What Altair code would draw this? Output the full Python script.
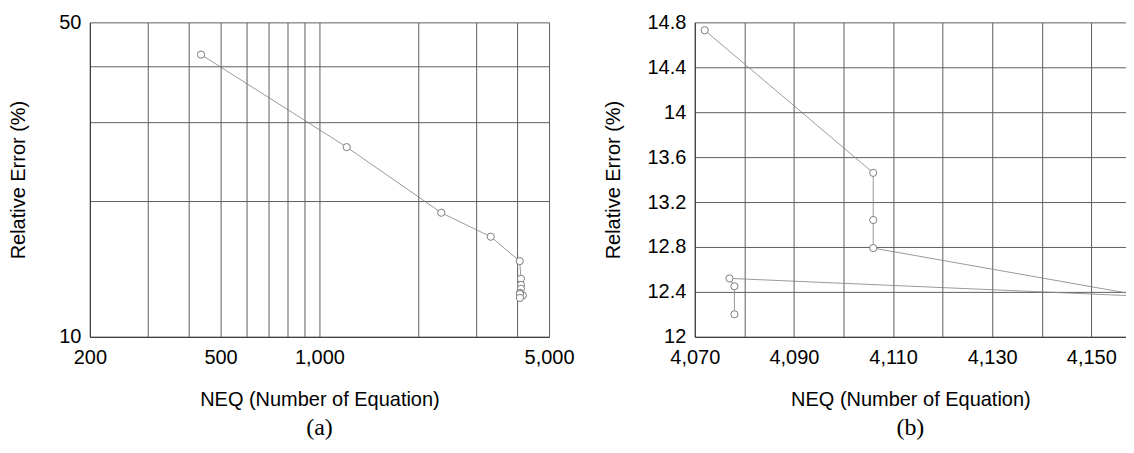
import altair as alt
import pandas as pd

# Data (NEQ vs relative error)
neq = [436, 1211, 2349, 3323, 4072, 4106, 4106, 4106, 4161, 4077, 4078, 4078]
err = [42.4, 26.4, 18.87, 16.69, 14.73, 13.46, 13.04, 12.79, 12.36, 12.52, 12.45, 12.2]

# Axis ticks / labels
x_grid_a = [200, 300, 400, 500, 600, 700, 800, 900, 1000, 2000, 3000, 4000, 5000]
x_lab_a = [200, 500, 1000, 5000]
y_grid_a = [10, 20, 30, 40, 50]
y_lab_a = [10, 50]
x_grid_b = [4070, 4080, 4090, 4100, 4110, 4120, 4130, 4140, 4150]
x_lab_b = [4070, 4090, 4110, 4130, 4150]
y_grid_b = [12, 12.4, 12.8, 13.2, 13.6, 14, 14.4, 14.8]

df_a = pd.DataFrame({"neq": neq, "err": err, "o": list(range(len(neq)))})
df_b = df_a.iloc[4:].reset_index(drop=True)

FONT = "Liberation Sans"
GRID = "#5e5e5e"
AXIS = "#333333"
LINE = "#808080"
PT = "#707070"


def axis_common(**kw):
    base = dict(
        grid=True, gridColor=GRID, gridWidth=1, gridOpacity=1,
        domain=True, domainColor=AXIS, domainWidth=1,
        ticks=False, labelOverlap=False, labelFlush=False,
        labelFont=FONT, labelFontSize=20, labelColor="black",
        titleFont=FONT, titleFontSize=20, titleFontWeight="normal", titleColor="black",
    )
    base.update(kw)
    return alt.Axis(**base)


def panel(df, xscale, yscale, xaxis, yaxis, w, h, tag):
    base = alt.Chart(df)
    enc = dict(
        x=alt.X("neq:Q", scale=xscale, axis=xaxis, title="NEQ (Number of Equation)"),
        y=alt.Y("err:Q", scale=yscale, axis=yaxis, title="Relative Error (%)"),
    )
    line = base.mark_line(color=LINE, strokeWidth=0.8, clip=True).encode(order="o:Q", **enc)
    pts = base.mark_point(shape="circle", size=52, fill="white", fillOpacity=1,
                          stroke=PT, strokeWidth=0.9, opacity=1, clip=True).encode(**enc)
    return alt.layer(line, pts).properties(
        width=w, height=h,
        title=alt.TitleParams(text=tag, orient="bottom", anchor="middle", font="Liberation Serif",
                              fontSize=24, fontWeight="normal", color="black", offset=6),
    )


chart_a = panel(
    df_a,
    alt.Scale(type="log", domain=[200, 5000], nice=False),
    alt.Scale(type="log", domain=[10, 50], nice=False),
    axis_common(values=x_grid_a, labelPadding=11,
                labelExpr=f"indexof({x_lab_a}, datum.value) >= 0 ? format(datum.value, ',') : ''",
                titlePadding=22),
    axis_common(values=y_grid_a, labelPadding=9,
                labelExpr=f"indexof({y_lab_a}, datum.value) >= 0 ? format(datum.value, 'd') : ''",
                titlePadding=30),
    460, 315, "(a)",
)

chart_b = panel(
    df_b,
    alt.Scale(domain=[4070, 4157], nice=False, zero=False),
    alt.Scale(domain=[12, 14.8], nice=False, zero=False),
    axis_common(values=x_grid_b, labelPadding=11,
                labelExpr=f"indexof({x_lab_b}, datum.value) >= 0 ? format(datum.value, ',') : ''",
                titlePadding=22),
    axis_common(values=y_grid_b, labelPadding=9, format="~g", titlePadding=23),
    432, 315, "(b)",
)

chart = alt.hconcat(chart_a, chart_b, spacing=146, bounds="flush").properties(
    padding={"left": 0, "top": 4, "right": 0, "bottom": 0},
    background="white",
).configure_view(stroke=None)

chart.save("out.html", embed_options={"renderer": "svg", "actions": False})
